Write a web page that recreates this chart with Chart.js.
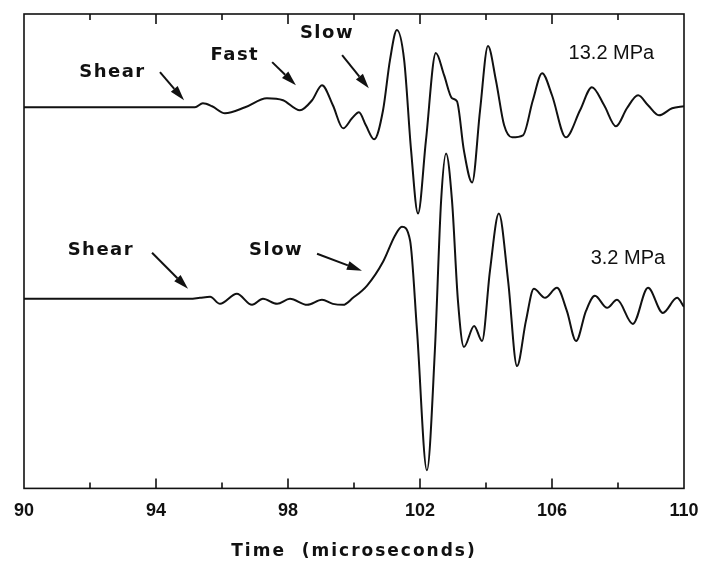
<!DOCTYPE html>
<html>
<head>
<meta charset="utf-8">
<script src="https://cdn.jsdelivr.net/npm/chart.js@4.4.1/dist/chart.umd.min.js"></script>
<style>
  html, body { margin: 0; padding: 0; background: #fff; }
</style>
</head>
<body>
<canvas id="myChart" width="706" height="573"></canvas>
<script>
// waveform at 13.2 MPa (time in microseconds, amplitude in plot units)
const upperTime = [90, 93.82, 95.18, 95.42, 95.70, 96.09, 96.70, 97.36, 97.85, 98.36, 98.73, 99.03, 99.36, 99.67, 99.94, 100.15, 100.36, 100.61, 100.88, 101.09, 101.30, 101.52, 101.73, 101.94, 102.18, 102.48, 102.73, 102.97, 103.12, 103.33, 103.58, 103.82, 104.06, 104.30, 104.55, 104.79, 105.12, 105.42, 105.70, 106.00, 106.42, 106.85, 107.21, 107.58, 107.94, 108.27, 108.61, 108.91, 109.24, 109.64, 110];
const upperAmp = [38.0, 38.0, 38.0, 38.4, 38.1, 37.4, 38.0, 38.9, 38.7, 37.7, 38.7, 40.2, 38.2, 35.9, 36.9, 37.5, 36.2, 34.8, 37.7, 42.7, 45.7, 42.7, 33.7, 27.4, 34.7, 43.4, 41.2, 38.9, 38.6, 33.7, 30.5, 37.7, 44.1, 40.7, 36.2, 35.0, 35.2, 38.7, 41.4, 39.2, 35.0, 37.7, 40.0, 38.2, 36.1, 37.9, 39.2, 38.2, 37.2, 37.9, 38.1];

// waveform at 3.2 MPa
const lowerTime = [90, 94.33, 95.03, 95.33, 95.64, 95.94, 96.45, 96.91, 97.24, 97.67, 98.06, 98.58, 99.03, 99.36, 99.67, 99.97, 100.39, 100.88, 101.24, 101.45, 101.70, 101.91, 102.21, 102.45, 102.64, 102.79, 102.97, 103.15, 103.33, 103.64, 103.88, 104.12, 104.39, 104.67, 104.94, 105.21, 105.45, 105.79, 106.15, 106.45, 106.73, 107.03, 107.30, 107.67, 107.97, 108.45, 108.91, 109.36, 109.79, 110];
const lowerAmp = [18.9, 18.9, 18.9, 19.0, 19.1, 18.4, 19.4, 18.3, 18.9, 18.4, 18.9, 18.3, 18.8, 18.4, 18.3, 19.0, 20.2, 22.6, 25.2, 26.1, 24.7, 15.7, 1.8, 13.7, 28.7, 33.4, 28.7, 18.7, 14.1, 16.2, 14.7, 21.7, 27.4, 20.7, 12.2, 16.7, 19.9, 19.0, 20.0, 17.7, 14.7, 17.7, 19.2, 18.0, 18.8, 16.4, 20.0, 17.5, 19.0, 18.1];

const xTicks = [90, 94, 98, 102, 106, 110];
const xTitle = 'Time  (microseconds)';

// labels with arrows, in data units: text at (tx, ty), arrow from (ax, ay) to (bx, by)
const notes = [
  { text: 'Shear', tx: 92.68, ty: 41.5, ax: 94.12, ay: 41.5, bx: 94.85, by: 38.7 },
  { text: 'Fast', tx: 96.39, ty: 43.2, ax: 97.52, ay: 42.5, bx: 98.24, by: 40.2 },
  { text: 'Slow', tx: 99.18, ty: 45.4, ax: 99.64, ay: 43.2, bx: 100.45, by: 39.9 },
  { text: 'Shear', tx: 92.33, ty: 23.7, ax: 93.88, ay: 23.5, bx: 94.97, by: 19.9 },
  { text: 'Slow', tx: 97.64, ty: 23.7, ax: 98.88, ay: 23.4, bx: 100.24, by: 21.7 }
];
const pressures = [
  { text: '13.2 MPa', tx: 107.8, ty: 43.4 },
  { text: '3.2 MPa', tx: 108.3, ty: 22.9 }
];

const framePlugin = {
  id: 'frame',
  afterDraw(chart) {
    const ctx = chart.ctx;
    const a = chart.chartArea;
    const xs = chart.scales.x;
    const ys = chart.scales.y;
    ctx.save();
    ctx.strokeStyle = '#111';
    ctx.lineWidth = 1.6;
    ctx.strokeRect(a.left, a.top, a.right - a.left, a.bottom - a.top);
    for (let v = 92; v < 110; v += 2) {
      const px = xs.getPixelForValue(v);
      const len = (v - 90) % 4 === 0 ? 10 : 6;
      ctx.beginPath();
      ctx.moveTo(px, a.bottom); ctx.lineTo(px, a.bottom - len);
      ctx.moveTo(px, a.top); ctx.lineTo(px, a.top + len);
      ctx.stroke();
    }

    ctx.fillStyle = '#111';
    ctx.textBaseline = 'middle';
    ctx.textAlign = 'center';
    ctx.font = 'bold 18px "DejaVu Sans"';
    if ('letterSpacing' in ctx) ctx.letterSpacing = '1.5px';
    notes.forEach(n => {
      ctx.fillText(n.text, xs.getPixelForValue(n.tx), ys.getPixelForValue(n.ty));
      const x1 = xs.getPixelForValue(n.ax), y1 = ys.getPixelForValue(n.ay);
      const x2 = xs.getPixelForValue(n.bx), y2 = ys.getPixelForValue(n.by);
      const ang = Math.atan2(y2 - y1, x2 - x1);
      const hl = 15, hw = 4.5;
      const bxp = x2 - hl * Math.cos(ang), byp = y2 - hl * Math.sin(ang);
      ctx.lineWidth = 2;
      ctx.beginPath();
      ctx.moveTo(x1, y1); ctx.lineTo(bxp, byp);
      ctx.stroke();
      ctx.beginPath();
      ctx.moveTo(x2, y2);
      ctx.lineTo(bxp + hw * Math.sin(ang), byp - hw * Math.cos(ang));
      ctx.lineTo(bxp - hw * Math.sin(ang), byp + hw * Math.cos(ang));
      ctx.closePath();
      ctx.fill();
    });
    // axis title
    ctx.font = 'bold 17px "DejaVu Sans"';
    if ('letterSpacing' in ctx) ctx.letterSpacing = '2px';
    ctx.fillText(xTitle, (a.left + a.right) / 2, 552);
    if ('letterSpacing' in ctx) ctx.letterSpacing = '0px';
    ctx.font = '20px "Liberation Sans"';
    pressures.forEach(p => {
      ctx.fillText(p.text, xs.getPixelForValue(p.tx), ys.getPixelForValue(p.ty));
    });
    ctx.restore();
  }
};

const ctx = document.getElementById('myChart');

new Chart(ctx, {
  type: 'line',
  data: {
    datasets: [{
      label: '13.2 MPa',
      data: upperTime.map((t, i) => ({ x: t, y: upperAmp[i] })),
      borderColor: '#111',
      borderWidth: 2,
      pointRadius: 0,
      cubicInterpolationMode: 'monotone',
      fill: false
    }, {
      label: '3.2 MPa',
      data: lowerTime.map((t, i) => ({ x: t, y: lowerAmp[i] })),
      borderColor: '#111',
      borderWidth: 2,
      pointRadius: 0,
      cubicInterpolationMode: 'monotone',
      fill: false
    }]
  },
  options: {
    responsive: false,
    animation: false,
    layout: { padding: { left: 24, right: 22, top: 14, bottom: 39 } },
    plugins: {
      legend: { display: false },
      tooltip: { enabled: false }
    },
    scales: {
      x: {
        type: 'linear',
        min: 90,
        max: 110,
        afterBuildTicks: (s) => { s.ticks = xTicks.map(v => ({ value: v })); },
        afterFit: (s) => { s.paddingLeft = 0; s.paddingRight = 0; },
        grid: { display: false, drawTicks: false },
        border: { display: false },
        ticks: {
          color: '#111',
          padding: 12,
          font: { family: 'Liberation Sans', weight: 'bold', size: 18 }
        }
      },
      y: {
        display: false,
        min: 0,
        max: 47.3
      }
    }
  },
  plugins: [framePlugin]
});
</script>
</body>
</html>
